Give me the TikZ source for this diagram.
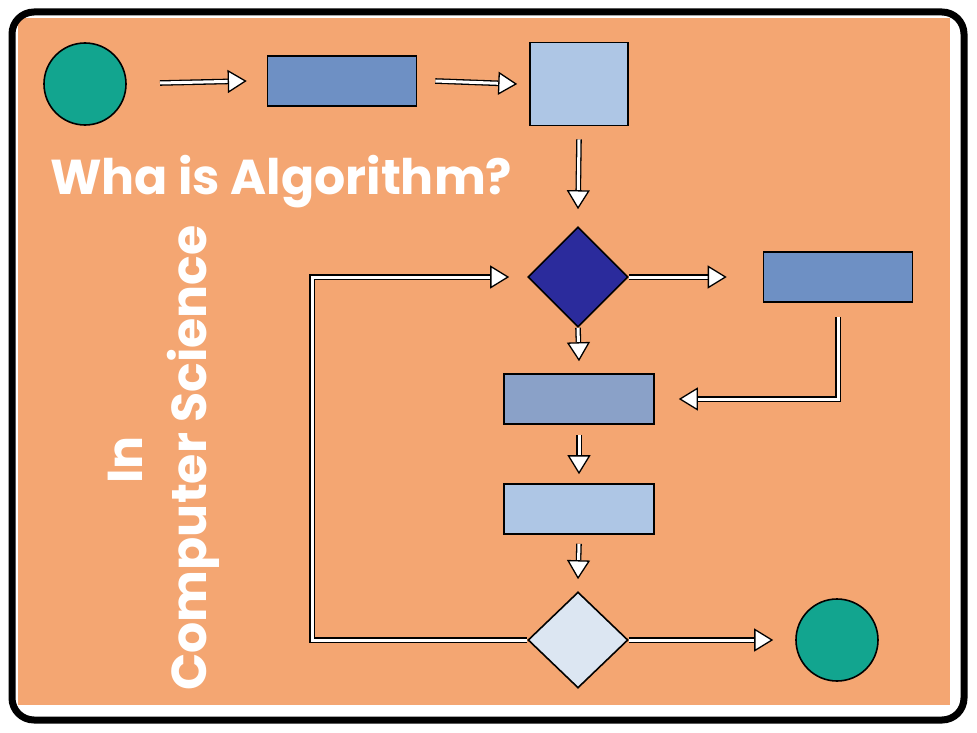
\documentclass[tikz,border=0pt]{standalone}
\usepackage{fontspec}
\setmainfont{Poppins}
\usetikzlibrary{arrows.meta,shapes.geometric}
\definecolor{bgor}{HTML}{F4A672}
\definecolor{teal}{HTML}{12A58F}
\definecolor{bmid}{HTML}{6E90C4}
\definecolor{blight}{HTML}{AEC6E5}
\definecolor{bnavy}{HTML}{2B2B9C}
\definecolor{bgrey}{HTML}{8AA1C8}
\definecolor{bpale}{HTML}{DCE6F2}
\tikzset{
 box/.style={draw=black,line width=1.6pt},
 flow/.style={draw=black,double=white,double distance=3pt,line width=1.3pt,
   -{Triangle[fill=white,length=19pt,width=23pt,line width=1.3pt]}},
 ttl/.style={text=white,font=\bfseries\fontsize{49}{52}\selectfont,inner sep=0pt}
}
\begin{document}
\begin{tikzpicture}[x=1pt,y=-1pt]
\useasboundingbox (0,0) rectangle (977,733);
\fill[white] (0,0) rectangle (977,733);
\fill[bgor] (18,18) rectangle (950,705);
\draw[line width=7pt,rounded corners=22pt] (12,12) rectangle (964,720);
\node[box,circle,fill=teal,minimum size=82pt,inner sep=0pt] (st) at (85,84) {};
\node[box,fill=bmid,minimum width=149pt,minimum height=50pt,inner sep=0pt] (r1) at (342,81) {};
\node[box,fill=blight,minimum width=98pt,minimum height=83pt,inner sep=0pt] (sq) at (579,84) {};
\node[box,diamond,fill=bnavy,minimum width=100pt,minimum height=100pt,inner sep=0pt] (d1) at (578,277) {};
\node[box,fill=bmid,minimum width=149pt,minimum height=50pt,inner sep=0pt] (rr) at (838,277) {};
\node[box,fill=bgrey,minimum width=150pt,minimum height=50pt,inner sep=0pt] (r2) at (579,399) {};
\node[box,fill=blight,minimum width=150pt,minimum height=50pt,inner sep=0pt] (r3) at (579,509) {};
\node[box,diamond,fill=bpale,minimum width=100pt,minimum height=96pt,inner sep=0pt] (d2) at (578,640) {};
\node[box,circle,fill=teal,minimum size=82pt,inner sep=0pt] (en) at (837,640) {};
\coordinate (a0) at (160,83);
\coordinate (lp) at (312,640);
\draw[flow] (a0) -- ([xshift=-20pt]r1.west);
\draw[flow] ([xshift=18pt]r1.east) -- ([xshift=-12pt]sq.west);
\draw[flow] ([yshift=-13pt]sq.south) -- ([yshift=17pt]d1.north);
\draw[flow] (d1.east) -- ([xshift=-36pt]rr.west);
\draw[flow] (d1.south) -- ([yshift=12pt]r2.north);
\draw[flow] ([yshift=-14pt]rr.south) |- ([xshift=24pt]r2.east);
\draw[flow] ([yshift=-10pt]r2.south) -- ([yshift=9pt]r3.north);
\draw[flow] ([yshift=-9pt]r3.south) -- ([yshift=12pt]d2.north);
\draw[flow] (d2.east) -- ([xshift=-22pt]en.west);
\draw[flow] (d2.west) -- (lp) |- ([xshift=-18pt]d1.west);
\node[ttl,anchor=west] (t1) at (50,182) {Wha is Algorithm?};
\node[ttl,rotate=90] (t2) at (125,460) {In};
\node[ttl,rotate=90] (t3) at (193,458) {Computer Science};
\end{tikzpicture}
\end{document}
